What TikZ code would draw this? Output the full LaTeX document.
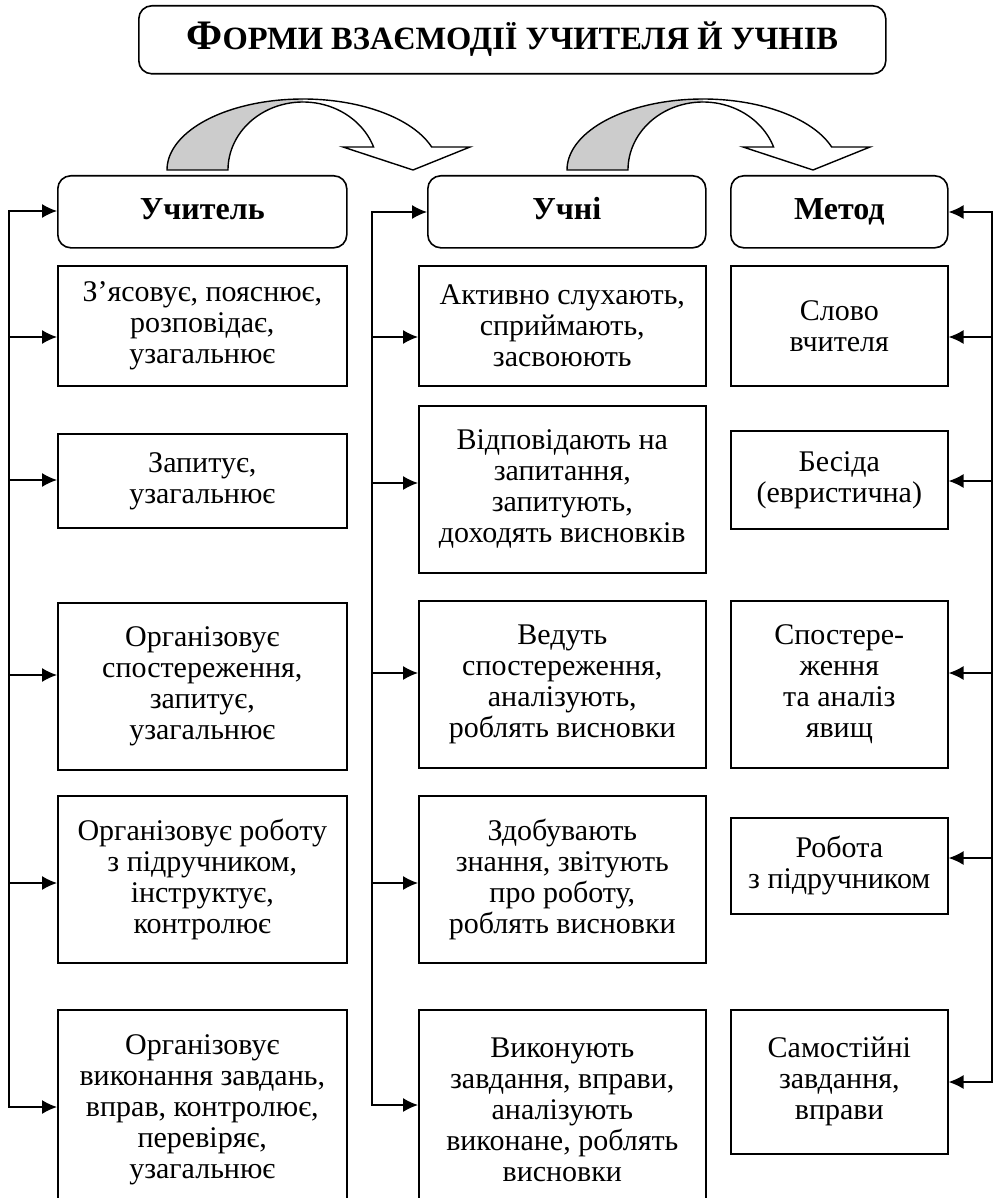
\documentclass[tikz,border=0pt]{standalone}
\usepackage{fontspec}
\setmainfont{Liberation Serif}
\usetikzlibrary{arrows.meta}
\newcommand\bodyfnt{\fontsize{30}{31}\selectfont}
\newcommand\hdrfnt{\fontsize{32}{34}\selectfont\bfseries}
\begin{document}
\begin{tikzpicture}[x=1pt,y=-1pt,
  box/.style={draw, line width=1.6pt, inner sep=0pt, align=center, anchor=north west, font=\bodyfnt},
  hdr/.style={box, rounded corners=13pt, font=\hdrfnt, text height=22pt, text depth=6pt},
  conn/.style={line width=1.4pt},
  arr/.style={conn, -{Latex[length=15pt,width=14pt]}},
  bandline/.style={line width=1.4pt, line join=miter},
  shade/.style={fill=gray!40}
]
\useasboundingbox (0,0) rectangle (996,1198);
\clip (0,0) rectangle (996,1198);

% title
\node[draw, line width=1.6pt, rounded corners=13pt, minimum width=747pt, minimum height=68pt,
      anchor=north west, inner sep=0pt, text height=26pt, text depth=6pt] (title) at (138,5)
  {\bfseries\fontsize{42}{42}\selectfont Ф\fontsize{32.5}{32.5}\selectfont ОРМИ ВЗАЄМОДІЇ УЧИТЕЛЯ Й УЧНІВ};

% curved arrows
\foreach \dx in {0,400}{
\begin{scope}[xshift=\dx pt]
  \fill[shade] plot[domain=180:90,samples=60] ({303+136*cos(\x)},{170-71*sin(\x)})
     -- plot[domain=90:180,samples=60] ({303+75*cos(\x)},{170-68*sin(\x)}) -- cycle;
  \draw[bandline] plot[domain=180:18.9,samples=90] ({303+136*cos(\x)},{170-71*sin(\x)})
     -- (470,147) -- (413,170) -- (343,147)
     -- plot[domain=19.8:180,samples=90] ({303+75*cos(\x)},{170-68*sin(\x)}) -- cycle;
\end{scope}
}

% left column
\node[hdr, minimum width=289pt, minimum height=72pt] (l0) at (57,175) {Учитель};
\node[box, minimum width=289pt, minimum height=120pt] (l1) at (57,265) {З’ясовує, пояснює,\\розповідає,\\узагальнює};
\node[box, minimum width=289pt, minimum height=94pt] (l2) at (57,433) {Запитує,\\узагальнює};
\node[box, minimum width=289pt, minimum height=167pt] (l3) at (57,602) {Організовує\\спостереження,\\запитує,\\узагальнює};
\node[box, minimum width=289pt, minimum height=167pt] (l4) at (57,795) {Організовує роботу\\з підручником,\\інструктує,\\контролює};
\node[box, minimum width=289pt, minimum height=200pt] (l5) at (57,1009) {Організовує\\виконання завдань,\\вправ, контролює,\\перевіряє,\\узагальнює};

% middle column
\node[hdr, minimum width=278pt, minimum height=72pt] (m0) at (427,175) {Учні};
\node[box, minimum width=287pt, minimum height=120pt] (m1) at (418,265) {Активно слухають,\\сприймають,\\засвоюють};
\node[box, minimum width=287pt, minimum height=167pt] (m2) at (418,405) {Відповідають на\\запитання,\\запитують,\\доходять висновків};
\node[box, minimum width=287pt, minimum height=167pt] (m3) at (418,600) {Ведуть\\спостереження,\\аналізують,\\роблять висновки};
\node[box, minimum width=287pt, minimum height=167pt] (m4) at (418,795) {Здобувають\\знання, звітують\\про роботу,\\роблять висновки};
\node[box, minimum width=287pt, minimum height=200pt] (m5) at (418,1009) {Виконують\\завдання, вправи,\\аналізують\\виконане, роблять\\висновки};

% right column
\node[hdr, minimum width=217pt, minimum height=72pt] (r0) at (730,175) {Метод};
\node[box, minimum width=217pt, minimum height=120pt] (r1) at (730,265) {Слово\\вчителя};
\node[box, minimum width=217pt, minimum height=98pt] (r2) at (730,430) {Бесіда\\(евристична)};
\node[box, minimum width=217pt, minimum height=167pt] (r3) at (730,600) {Спостере-\\ження\\та аналіз\\явищ};
\node[box, minimum width=217pt, minimum height=96pt] (r4) at (730,817) {Робота\\з підручником};
\node[box, minimum width=217pt, minimum height=144pt] (r5) at (730,1009) {Самостійні\\завдання,\\вправи};

% bus coordinates
\coordinate (la0) at (9,211);  \coordinate (la1) at (9,337);  \coordinate (la2) at (9,480);
\coordinate (la3) at (9,675);  \coordinate (la4) at (9,883);  \coordinate (la5) at (9,1107);
\coordinate (ma0) at (372,212); \coordinate (ma1) at (372,337); \coordinate (ma2) at (372,483);
\coordinate (ma3) at (372,673); \coordinate (ma4) at (372,883); \coordinate (ma5) at (372,1105);
\coordinate (ra0) at (992,212); \coordinate (ra1) at (992,337); \coordinate (ra2) at (992,481);
\coordinate (ra3) at (992,673); \coordinate (ra4) at (992,858); \coordinate (ra5) at (992,1082);

\draw[conn, line cap=rect] (la0) -- (la5);
\draw[conn, line cap=rect] (ma0) -- (ma5);
\draw[conn, line cap=rect] (ra0) -- (ra5);
\foreach \i in {0,...,5}{
  \draw[arr] (la\i) -- (la\i -| l\i.west);
  \draw[arr] (ma\i) -- (ma\i -| m\i.west);
  \draw[arr] (ra\i) -- (ra\i -| r\i.east);
}
\end{tikzpicture}
\end{document}
